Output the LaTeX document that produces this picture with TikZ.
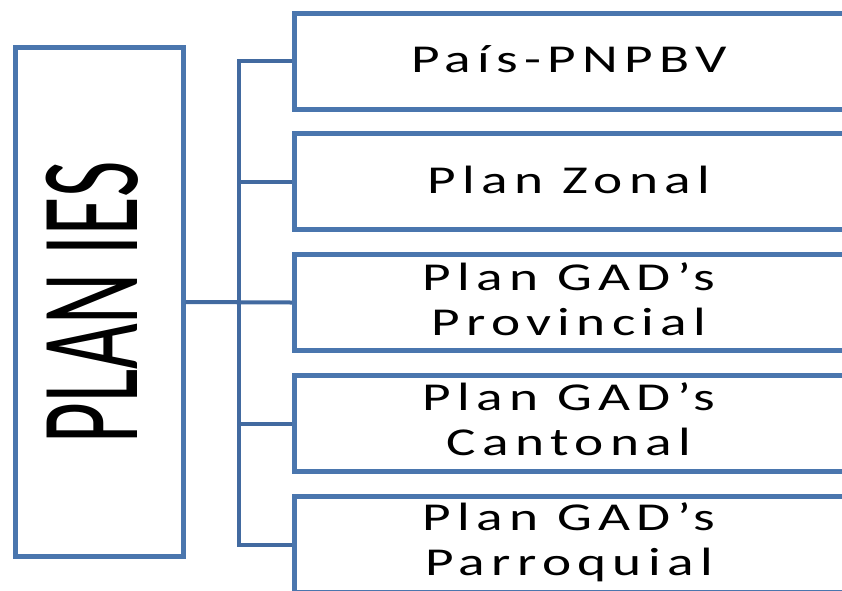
\documentclass[tikz,border=0pt]{standalone}
\usepackage{fontspec}
\setmainfont{Carlito}
\newfontfamily\boxfont[FakeStretch=1.4,LetterSpace=16]{Carlito}
\definecolor{boxblue}{RGB}{74,118,174}
\definecolor{linkblue}{RGB}{66,106,160}

\begin{document}
\begin{tikzpicture}[x=1pt,y=-1pt,
  frame/.style={draw=boxblue,line width=5pt,fill=white,inner sep=0pt},
  item/.style={frame,minimum width=550.5pt,minimum height=96pt},
  caption/.style={anchor=base,inner sep=0pt,
    font=\boxfont\fontsize{39.5}{45}\selectfont},
  link/.style={draw=linkblue,line width=4pt}]
\useasboundingbox (0,0) rectangle (842,590);
\clip (0,0) rectangle (842,590);

% hub of the tree
\coordinate (spine) at (239,302.5);

% the five plan levels
\node[item] (b1) at (569.75,61)    {};
\node[item] (b2) at (569.75,181.5) {};
\node[item] (b3) at (569.75,302.5) {};
\node[item] (b4) at (569.75,423.5) {};
\node[item] (b5) at (569.75,544.5) {};

\node[caption] (t1)  at (569,72)  {País-PNPBV};
\node[caption] (t2)  at (569,193) {Plan Zonal};
\node[caption] (t3a) at (569,290) {Plan GAD’s};
\node[caption] (t3b) at (569,335) {Provincial};
\node[caption] (t4a) at (569,410) {Plan GAD’s};
\node[caption] (t4b) at (569,455) {Cantonal};
\node[caption] (t5a) at (569,530) {Plan GAD’s};
\node[caption] (t5b) at (569,575) {Parroquial};

% the institutional plan
\node[frame,minimum width=168pt,minimum height=509pt] (plan) at (99,302) {};
\node[rotate=90,anchor=base,inner sep=0pt] (plantext) at (137,302.5)
  {\scalebox{0.56}[1]{\fontsize{141}{141}\selectfont PLAN IES}};

% connectors
\draw[link] (b1.west) -| (spine) |- (b5.west);
\draw[link] (b2.west) -- (b2.west -| spine);
\draw[link] (b4.west) -- (b4.west -| spine);
\draw[link] (plan.east) -- (b3.west);
\end{tikzpicture}
\end{document}
